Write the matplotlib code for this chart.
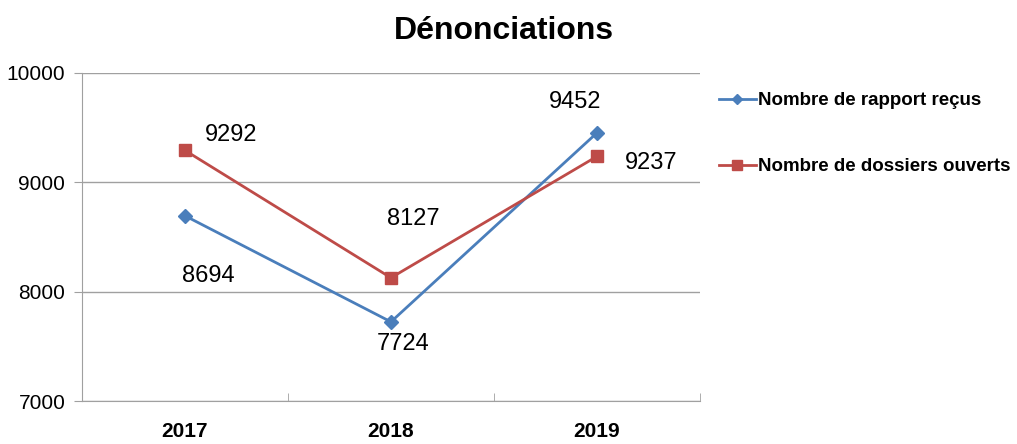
import matplotlib.pyplot as plt
from matplotlib import font_manager

years = ['2017', '2018', '2019']
rapports = [8694, 7724, 9452]
dossiers = [9292, 8127, 9237]

names = {f.name for f in font_manager.fontManager.ttflist}
narrow = 'Liberation Sans Narrow' if 'Liberation Sans Narrow' in names else 'Liberation Sans'
plt.rcParams['font.family'] = [narrow, 'DejaVu Sans']

fig = plt.figure(figsize=(10.17, 4.44), dpi=100)
ax = fig.add_axes([0.0806, 0.0968, 0.6076, 0.7388])

x = range(len(years))
ax.plot(x, rapports, color='#4a7ebb', marker='D', markersize=7, lw=2,
        label='Nombre de rapport reçus')
ax.plot(x, dossiers, color='#be4b48', marker='s', markersize=9, lw=2,
        label='Nombre de dossiers ouverts')

# étiquettes de valeurs
offs_r = [(17, -43), (9, -16), (-16, 22)]
offs_d = [(33, 11), (16, 42), (39, -5)]
for i in x:
    ax.annotate(str(rapports[i]), (i, rapports[i]), xytext=offs_r[i], textcoords='offset points',
                ha='center', va='center', fontsize=17, family='Liberation Sans')
    ax.annotate(str(dossiers[i]), (i, dossiers[i]), xytext=offs_d[i], textcoords='offset points',
                ha='center', va='center', fontsize=17, family='Liberation Sans')

ax.set_xlim(-0.5, 2.5)
ax.set_ylim(7000, 10000)
ax.set_yticks([7000, 8000, 9000, 10000])
ax.set_xticks(list(x))
ax.set_xticklabels(years, fontsize=15, fontweight='bold')
ax.tick_params(axis='x', length=0, pad=15)
ax.set_xticks([0.5, 1.5, 2.5], minor=True)
ax.tick_params(axis='x', which='minor', length=6, color='#a0a0a0', direction='in')
ax.tick_params(axis='y', labelsize=15, length=6, color='#a0a0a0', pad=6)
ax.grid(axis='y', color='#a0a0a0', lw=1)
for s in ['top', 'right']:
    ax.spines[s].set_visible(False)
for s in ['left', 'bottom']:
    ax.spines[s].set_color('#a0a0a0')

fig.text(0.496, 0.93, 'Dénonciations', ha='center', va='center', fontsize=23, fontweight='bold')

leg = fig.legend(loc='upper left', bbox_to_anchor=(0.69, 0.83), frameon=False,
                 prop={'weight': 'bold', 'size': 13.5}, labelspacing=2.6,
                 handlelength=2.0, handletextpad=0.1, markerscale=0.8)

fig.savefig('out.png', dpi=100)
